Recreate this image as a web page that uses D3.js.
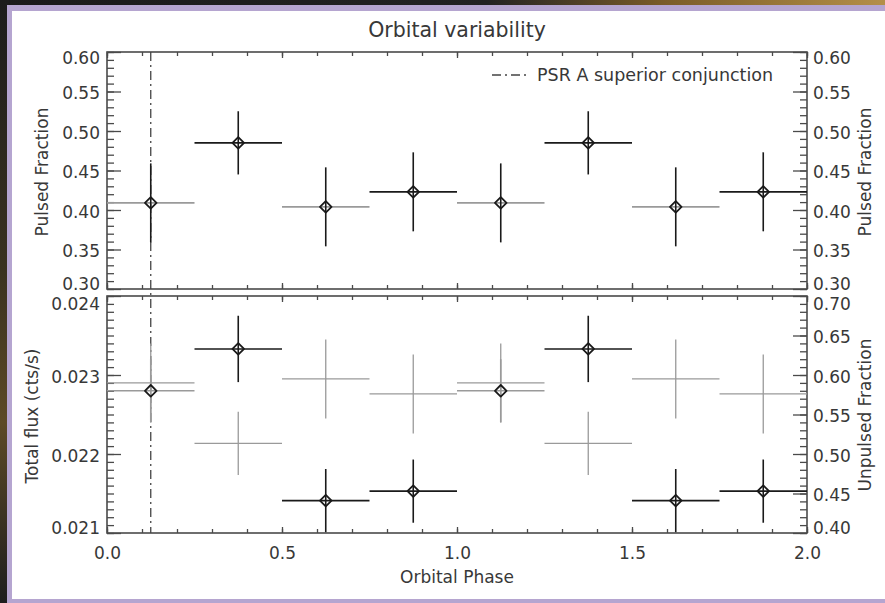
<!DOCTYPE html>
<html>
<head>
<meta charset="utf-8">
<script src="https://cdn.jsdelivr.net/npm/d3@7"></script>
<style>
  html, body { margin: 0; padding: 0; background: #1e1e1e; }
  svg { display: block; }
  text { font-family: "DejaVu Sans", sans-serif; fill: #383838; }
</style>
</head>
<body>
<svg id="chart" width="885" height="603"></svg>
<script>
// ---------------- data ----------------
const phase = [0.125, 0.375, 0.625, 0.875, 1.125, 1.375, 1.625, 1.875];
const binHalfWidth = 0.125;
const pulsedFraction    = [0.409, 0.485, 0.404, 0.423, 0.409, 0.485, 0.404, 0.423];
const pulsedFractionErr = [0.050, 0.040, 0.050, 0.050, 0.050, 0.040, 0.050, 0.050];
const totalFlux         = [0.02280, 0.02333, 0.02141, 0.02153, 0.02280, 0.02333, 0.02141, 0.02153];
const totalFluxErr      = [0.00040, 0.00042, 0.00040, 0.00040, 0.00040, 0.00042, 0.00040, 0.00040];
const unpulsedFraction    = [0.590, 0.5135, 0.595, 0.576, 0.590, 0.5135, 0.595, 0.576];
const unpulsedFractionErr = [0.050, 0.040, 0.050, 0.050, 0.050, 0.040, 0.050, 0.050];
const conjunctionPhase = 0.125;

const xTicks = [0.0, 0.5, 1.0, 1.5, 2.0];
const pfTicks = [0.30, 0.35, 0.40, 0.45, 0.50, 0.55, 0.60];
const fluxTicks = [0.021, 0.022, 0.023, 0.024];
const unpTicks = [0.40, 0.45, 0.50, 0.55, 0.60, 0.65, 0.70];

const titleText = "Orbital variability";
const xLabel = "Orbital Phase";
const legendLabel = "PSR A superior conjunction";

// -------------- styles (kept separate from data) --------------
const GREY = "#9a9a9a", BLACK = "#1a1a1a", AXIS = "#4a4a4a";
const pfHColor   = [GREY, BLACK, GREY, BLACK, GREY, BLACK, GREY, BLACK];
const fluxHColor = [GREY, BLACK, BLACK, BLACK, GREY, BLACK, BLACK, BLACK];
const fluxVColor = [GREY, BLACK, BLACK, BLACK, GREY, BLACK, BLACK, BLACK];

const svg = d3.select("#chart");

// ---------------- photo-like background ----------------
const defs = svg.append("defs");
const gTop = defs.append("linearGradient").attr("id", "gTop").attr("x1", 0).attr("x2", 1).attr("y1", 0).attr("y2", 0);
gTop.append("stop").attr("offset", "0%").attr("stop-color", "#1a1a1a");
gTop.append("stop").attr("offset", "55%").attr("stop-color", "#222");
gTop.append("stop").attr("offset", "75%").attr("stop-color", "#7a5c28");
gTop.append("stop").attr("offset", "100%").attr("stop-color", "#b48f48");
const gLeft = defs.append("linearGradient").attr("id", "gLeft").attr("x1", 0).attr("x2", 0).attr("y1", 0).attr("y2", 1);
gLeft.append("stop").attr("offset", "0%").attr("stop-color", "#1c1c1c");
gLeft.append("stop").attr("offset", "45%").attr("stop-color", "#3a3220");
gLeft.append("stop").attr("offset", "70%").attr("stop-color", "#5c4a26");
gLeft.append("stop").attr("offset", "100%").attr("stop-color", "#1e1e1e");
svg.append("rect").attr("width", 885).attr("height", 603).attr("fill", "#1e1e1e");
svg.append("rect").attr("width", 885).attr("height", 8).attr("fill", "url(#gTop)");
svg.append("rect").attr("width", 9).attr("height", 603).attr("fill", "url(#gLeft)");
svg.append("rect").attr("x", 7).attr("y", 5).attr("width", 890).attr("height", 610).attr("fill", "#b5a5d0");
svg.append("rect").attr("x", 12).attr("y", 11).attr("width", 885).attr("height", 588).attr("fill", "#ffffff");

// ---------------- scales ----------------
const L = 107, R = 807;
const T1 = 52, B1 = 289, T2 = 296, B2 = 533;
const x = d3.scaleLinear().domain([0, 2]).range([L, R]);
const yPF = d3.scaleLinear().domain([0.30, 0.60]).range([B1, T1]);
const yFlux = d3.scaleLinear().domain([0.021, 0.024]).range([B2, T2]);
const yUnp = d3.scaleLinear().domain([0.40, 0.70]).range([B2, T2]);

function styleAxis(g) {
  g.select(".domain").remove();
  g.selectAll(".tick line").attr("stroke", AXIS).attr("stroke-width", 1.3);
  g.selectAll(".tick text").style("font-size", "17px").style("font-family", "DejaVu Sans").attr("fill", "#383838");
}

function minorVals(lo, hi, step) {
  const n = Math.round((hi - lo) / step);
  const out = [];
  for (let i = 0; i <= n; i++) out.push(lo + i * step);
  return out;
}

// -------- x axes (four edges, ticks inward) --------
function xAxes(yTop, yBot, showLabels) {
  const minor = minorVals(0, 2, 0.1);
  svg.append("g").attr("transform", `translate(0,${yTop})`)
    .call(d3.axisBottom(x).tickValues(minor).tickSize(4).tickFormat("")).call(styleAxis);
  svg.append("g").attr("transform", `translate(0,${yTop})`)
    .call(d3.axisBottom(x).tickValues(xTicks).tickSize(6).tickFormat("")).call(styleAxis);
  svg.append("g").attr("transform", `translate(0,${yBot})`)
    .call(d3.axisTop(x).tickValues(minor).tickSize(4).tickFormat("")).call(styleAxis);
  const gb = svg.append("g").attr("transform", `translate(0,${yBot})`)
    .call(d3.axisTop(x).tickValues(xTicks).tickSize(6).tickFormat(d3.format(".1f"))).call(styleAxis);
  if (showLabels) {
    gb.selectAll(".tick text").attr("y", 26).attr("dy", "0").attr("dominant-baseline", "auto");
  } else {
    gb.selectAll(".tick text").remove();
  }
}
xAxes(T1, B1, false);
xAxes(T2, B2, true);

// -------- y axes --------
function yAxisPair(scale, major, minorStep, fmt, side, topShift, botShift) {
  const dom = scale.domain();
  const minor = minorVals(dom[0], dom[1], minorStep);
  const xPos = side === "left" ? L : R;
  const mk = side === "left" ? d3.axisRight : d3.axisLeft;
  svg.append("g").attr("transform", `translate(${xPos},0)`)
    .call(mk(scale).tickValues(minor).tickSize(7).tickFormat("")).call(styleAxis);
  const g = svg.append("g").attr("transform", `translate(${xPos},0)`)
    .call(mk(scale).tickValues(major).tickSize(14).tickFormat(d3.format(fmt))).call(styleAxis);
  g.selectAll(".tick text")
    .attr("text-anchor", side === "left" ? "end" : "start")
    .attr("x", side === "left" ? -7 : 6)
    .attr("dy", d => {
      let s = 1.5;
      if (Math.abs(d - dom[1]) < 1e-9) s = topShift;
      if (Math.abs(d - dom[0]) < 1e-9) s = botShift;
      return `${0.35 * 17 + s}px`;
    });
}
yAxisPair(yPF, pfTicks, 0.01, ".2f", "left", 6, -5.5);
yAxisPair(yPF, pfTicks, 0.01, ".2f", "right", 6, -5.5);
yAxisPair(yFlux, fluxTicks, 0.0001, ".3f", "left", 7.5, -5);
yAxisPair(yUnp, unpTicks, 0.01, ".2f", "right", 7.5, -5);

// -------- frames --------
[[T1, B1], [T2, B2]].forEach(([t, b]) => {
  svg.append("rect").attr("x", L).attr("y", t).attr("width", R - L).attr("height", b - t)
    .attr("fill", "none").attr("stroke", AXIS).attr("stroke-width", 1.6);
});

// -------- conjunction line --------
svg.append("line")
  .attr("x1", x(conjunctionPhase)).attr("x2", x(conjunctionPhase))
  .attr("y1", T1).attr("y2", B2)
  .attr("stroke", "#444").attr("stroke-width", 1.3).attr("stroke-dasharray", "9,4,2,4");

// -------- error crosses --------
function crosses(g, xs, ys, errs, yScale, hCol, vCol, width) {
  xs.forEach((p, i) => {
    g.append("line")
      .attr("x1", x(p - binHalfWidth)).attr("x2", x(p + binHalfWidth))
      .attr("y1", yScale(ys[i])).attr("y2", yScale(ys[i]))
      .attr("stroke", typeof hCol === "string" ? hCol : hCol[i]).attr("stroke-width", width);
    g.append("line")
      .attr("x1", x(p)).attr("x2", x(p))
      .attr("y1", yScale(ys[i] - errs[i])).attr("y2", yScale(ys[i] + errs[i]))
      .attr("stroke", typeof vCol === "string" ? vCol : vCol[i]).attr("stroke-width", width);
  });
}
function diamonds(g, xs, ys, yScale) {
  g.selectAll(null).data(xs).enter().append("path")
    .attr("d", (p, i) => {
      const cx = x(p), cy = yScale(ys[i]), r = 5.8;
      return `M${cx},${cy - r}L${cx + r},${cy}L${cx},${cy + r}L${cx - r},${cy}Z`;
    })
    .attr("fill", "none").attr("stroke", "#1a1a1a").attr("stroke-width", 1.8)
    .attr("stroke-linejoin", "round");
}

const gTopPanel = svg.append("g");
crosses(gTopPanel, phase, pulsedFraction, pulsedFractionErr, yPF, pfHColor, BLACK, 1.6);
diamonds(gTopPanel, phase, pulsedFraction, yPF);

const gBot = svg.append("g");
crosses(gBot, phase, unpulsedFraction, unpulsedFractionErr, yUnp, GREY, GREY, 1.3);
crosses(gBot, phase, totalFlux, totalFluxErr, yFlux, fluxHColor, fluxVColor, 1.6);
diamonds(gBot, phase, totalFlux, yFlux);

// -------- legend --------
svg.append("line").attr("x1", 492).attr("x2", 530).attr("y1", 75).attr("y2", 75)
  .attr("stroke", "#444").attr("stroke-width", 1.3).attr("stroke-dasharray", "9,4,2,4");
svg.append("text").attr("x", 537).attr("y", 81).style("font-size", "17.5px").text(legendLabel);

// -------- titles --------
svg.append("text").attr("x", 457).attr("y", 37).attr("text-anchor", "middle")
  .style("font-size", "20.5px").text(titleText);
svg.append("text").attr("x", 457).attr("y", 583).attr("text-anchor", "middle")
  .style("font-size", "17px").text(xLabel);

function vLabel(txt, cx, cy) {
  svg.append("text").attr("transform", `translate(${cx},${cy}) rotate(-90)`)
    .attr("text-anchor", "middle").attr("dy", "0.36em").style("font-size", "17px").text(txt);
}
vLabel("Pulsed Fraction", 42, 172);
vLabel("Total flux (cts/s)", 32, 416);
vLabel("Pulsed Fraction", 865, 172);
vLabel("Unpulsed Fraction", 865, 415);
</script>
</body>
</html>
